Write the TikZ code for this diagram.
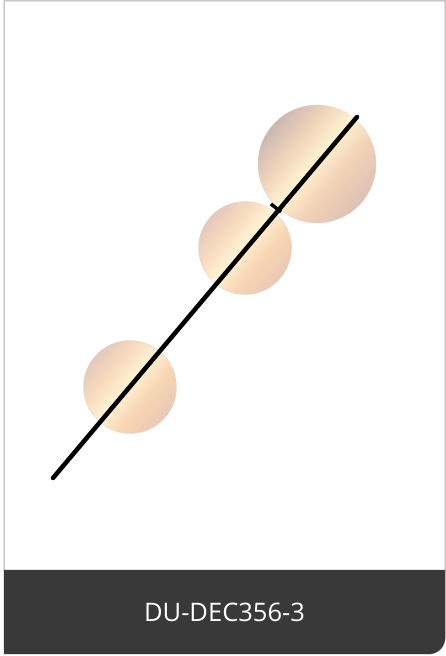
\documentclass[tikz,border=0pt]{standalone}
\usepackage{fontspec}
\setmainfont{Open Sans}
\definecolor{bandgray}{HTML}{393939}
\definecolor{framegray}{HTML}{A8A8A8}
% palette for the large ball (lower-right edge -> upper-left edge)
\definecolor{bigEa}{RGB}{222,193,182}
\definecolor{bigPa}{RGB}{242,210,182}
\definecolor{bigM}{RGB}{255,241,208}
\definecolor{bigPb}{RGB}{240,212,186}
\definecolor{bigEb}{RGB}{203,183,178}
% palette for the smaller balls
\definecolor{smEa}{RGB}{235,201,180}
\definecolor{smPa}{RGB}{248,214,180}
\definecolor{smM}{RGB}{255,242,212}
\definecolor{smPb}{RGB}{248,220,190}
\definecolor{smEb}{RGB}{228,200,186}
\newcommand\shadeball[3]{%
  \begin{scope}
    \clip (#1) circle (#2pt);
    \begin{scope}[shift={(#1)}, rotate=50]
      \foreach \k in {0,...,69}{%
        \pgfmathsetmacro\tt{\k/69}%
        \ifdim\tt pt<0.28pt
          \pgfmathtruncatemacro\pp{100*\tt/0.28}\colorlet{sc}{#3Pa!\pp!#3Ea}%
        \else\ifdim\tt pt<0.53pt
          \pgfmathtruncatemacro\pp{100*(\tt-0.28)/0.25}\colorlet{sc}{#3M!\pp!#3Pa}%
        \else\ifdim\tt pt<0.75pt
          \pgfmathtruncatemacro\pp{100*(\tt-0.53)/0.22}\colorlet{sc}{#3Pb!\pp!#3M}%
        \else
          \pgfmathtruncatemacro\pp{100*(\tt-0.75)/0.25}\colorlet{sc}{#3Eb!\pp!#3Pb}%
        \fi\fi\fi
        \pgfmathsetmacro\ya{-#2+2*#2*\k/70}%
        \pgfmathsetmacro\yb{\ya+2*#2/70+0.6}%
        \fill[sc] (-#2-2,\ya) rectangle (#2+2,\yb);
      }
    \end{scope}
  \end{scope}}
\tikzset{
  ball/.style={circle, inner sep=0pt, draw=gray!30, densely dotted, line width=0.6pt},
  rod/.style={line width=4.5pt, black, line cap=round},
}
\begin{document}
\begin{tikzpicture}[x=1pt,y=1pt]
\useasboundingbox (0,0) rectangle (446,656);
\fill[white] (0,0) rectangle (446,656);
\draw[framegray, line width=1pt, fill=white]
  (4,655) -- (445,655) -- (445,18) arc[start angle=0, end angle=-90, radius=16] -- (4,2) -- cycle;
\fill[bandgray] (4,86) -- (445,86) -- (445,18) arc[start angle=0, end angle=-90, radius=16] -- (4,2) -- cycle;
\node[font=\fontsize{25.5}{29}\selectfont, text=white] (label) at (224.5,44) {DU-DEC356-3};
\coordinate (cbig) at (317,492);
\coordinate (cmid) at (245,408);
\coordinate (csmall) at (130,269);
\shadeball{cbig}{59}{big}
\shadeball{cmid}{46.5}{sm}
\shadeball{csmall}{46.5}{sm}
\node[ball, minimum size=118pt] (big) at (cbig) {};
\node[ball, minimum size=93pt] (mid) at (cmid) {};
\node[ball, minimum size=93pt] (small) at (csmall) {};
\coordinate (a) at (53,178);
\coordinate (b) at (357,539);
\draw[rod] (a) -- (b);
\coordinate (t1) at (271,452);
\coordinate (t2) at (281,444);
\draw[line width=3.5pt, black] (t1) -- (t2);
\end{tikzpicture}
\end{document}
